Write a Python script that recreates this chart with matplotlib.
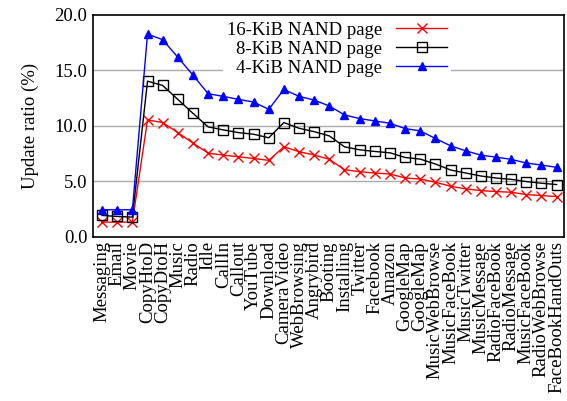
import matplotlib
matplotlib.use("Agg")
import matplotlib.pyplot as plt

workloads = ["Messaging", "Email", "Movie", "CopyHtoD", "CopyDtoH", "Music", "Radio",
             "Idle", "CallIn", "Callout", "YouTube", "Download", "CameraVideo",
             "WebBrowsing", "Angrybird", "Booting", "Installing", "Twitter", "Facebook",
             "Amazon", "GoogleMap", "GoogleMap", "MusicWebBrowse", "MusicFaceBook",
             "MusicTwitter", "MusicMessage", "RadioFaceBook", "RadioMessage",
             "MusicFaceBook", "RadioWebBrowse", "FaceBookHandOuts"]

page16k = [1.34, 1.34, 1.34, 10.54, 10.30, 9.40, 8.45, 7.55, 7.37, 7.22, 7.07, 6.90,
           8.12, 7.68, 7.38, 6.99, 6.06, 5.88, 5.76, 5.67, 5.31, 5.22, 4.93, 4.57,
           4.33, 4.18, 4.09, 4.03, 3.82, 3.73, 3.64]
page8k = [1.94, 1.85, 1.79, 14.03, 13.64, 12.39, 11.13, 9.91, 9.64, 9.40, 9.25, 8.93,
          10.30, 9.79, 9.48, 9.10, 8.12, 7.85, 7.70, 7.58, 7.16, 7.01, 6.57, 6.03,
          5.76, 5.49, 5.31, 5.19, 4.99, 4.84, 4.72]
page4k = [2.45, 2.45, 2.45, 18.27, 17.76, 16.18, 14.57, 12.90, 12.66, 12.39, 12.15, 11.49,
          13.28, 12.66, 12.33, 11.79, 10.99, 10.66, 10.45, 10.24, 9.76, 9.55, 8.87, 8.21,
          7.76, 7.37, 7.19, 6.99, 6.66, 6.48, 6.27]

plt.rcParams["font.family"] = ["Liberation Serif", "DejaVu Serif"]
plt.rcParams["font.size"] = 13.5

fig = plt.figure(figsize=(5.67, 4.01), dpi=100)
ax = fig.add_axes([0.164, 0.409, 0.831, 0.554])

xs = range(len(workloads))
ax.plot(xs, page16k, color="red", marker="x", markersize=6.5, lw=1, label="16-KiB NAND page")
ax.plot(xs, page8k, color="black", marker="s", markersize=7.5, mfc="none", lw=1,
        label="8-KiB NAND page")
ax.plot(xs, page4k, color="blue", marker="^", markersize=5.5, lw=1, label="4-KiB NAND page")

ax.set_ylim(0, 20)
ax.set_xlim(-0.6, 30.5)
ax.set_yticks([0, 5, 10, 15, 20])
ax.set_yticklabels(["0.0", "5.0", "10.0", "15.0", "20.0"])
ax.set_xticks(list(xs))
ax.set_xticklabels(workloads, rotation=90)
ax.tick_params(axis="x", length=0, pad=3)
ax.tick_params(axis="y", direction="in", length=0, pad=4)
for v in [5, 10, 15]:
    ax.axhline(v, color="#aaaaaa", lw=1, zorder=0)
for s in ax.spines.values():
    s.set_linewidth(1.2)

ax.set_ylabel("Update ratio (%)", labelpad=11)
# markerfirst=False right-aligns the rows, so labels end next to their handles
ax.legend(loc="upper center", bbox_to_anchor=(0.518, 0.985), markerfirst=False,
          frameon=True, fancybox=False, edgecolor="none", facecolor="white",
          framealpha=1, handlelength=2.7, labelspacing=0.1, borderpad=0.2,
          handletextpad=0.75, borderaxespad=0)

fig.savefig("out.png", dpi=100)
